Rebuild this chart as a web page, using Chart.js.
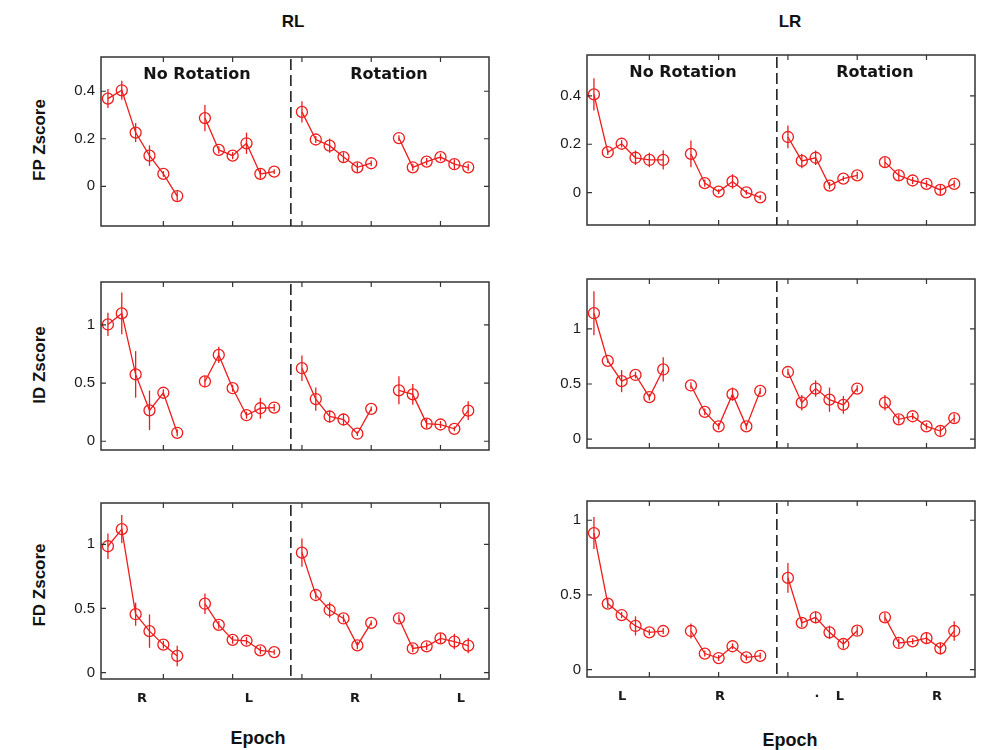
<!DOCTYPE html>
<html>
<head>
<meta charset="utf-8">
<script src="https://cdn.jsdelivr.net/npm/chart.js@4/dist/chart.umd.min.js"></script>
<style>
  body { margin: 0; background: #fff; }
  #wrap { position: relative; width: 984px; height: 750px; overflow: hidden; font-family: "Liberation Sans", Arial, sans-serif; color: #111; }
  canvas { position: absolute; }
  .lbl { position: absolute; transform: translate(-50%, -50%); font-weight: bold; white-space: nowrap; }
  .note { position: absolute; transform: translate(-50%, -50%); font: bold 16px "DejaVu Sans", sans-serif; white-space: nowrap; color: #151515; }
  .ytitle { position: absolute; transform: translate(-50%, -50%) rotate(-90deg); font-weight: bold; font-size: 17px; white-space: nowrap; }
</style>
</head>
<body>
<div id="wrap">
  <div class="lbl" style="left:293px;top:22px;font-size:17px">RL</div>
  <div class="lbl" style="left:790px;top:22px;font-size:17px">LR</div>
  <div class="ytitle" style="left:40px;top:140px">FP Zscore</div>
  <div class="ytitle" style="left:40px;top:365px">ID Zscore</div>
  <div class="ytitle" style="left:40px;top:585px">FD Zscore</div>
  <div class="lbl" style="left:258px;top:738px;font-size:18px">Epoch</div>
  <div class="lbl" style="left:790px;top:740px;font-size:18px">Epoch</div>
</div>
<script>
// epochs: 4 blocks of 6 (No Rotation R/L, Rotation R/L)
const epochs = [1, 2, 3, 4, 5, 6, 8, 9, 10, 11, 12, 13, 15, 16, 17, 18, 19, 20, 22, 23, 24, 25, 26, 27];
const xTicks = [5, 10, 15, 20, 25];
const divider = 14.2;

// FP Zscore
const fpRL = [0.369, 0.404, 0.226, 0.129, 0.052, -0.041, 0.287, 0.153, 0.129, 0.181, 0.052, 0.062, 0.313, 0.197, 0.171, 0.123, 0.080, 0.097, 0.203, 0.080, 0.104, 0.123, 0.093, 0.080];
const fpRLErr = [0.04, 0.04, 0.04, 0.043, 0.012, 0.02, 0.055, 0.015, 0.015, 0.045, 0.02, 0.01, 0.045, 0.015, 0.03, 0.02, 0.02, 0.012, 0.012, 0.015, 0.015, 0.015, 0.02, 0.015];
const fpLR = [0.406, 0.167, 0.202, 0.144, 0.135, 0.135, 0.160, 0.039, 0.004, 0.046, 0.001, -0.02, 0.230, 0.131, 0.144, 0.029, 0.058, 0.071, 0.126, 0.071, 0.050, 0.036, 0.011, 0.036];
const fpLRErr = [0.067, 0.012, 0.015, 0.03, 0.03, 0.04, 0.055, 0.015, 0.01, 0.03, 0.01, 0.01, 0.047, 0.03, 0.03, 0.015, 0.01, 0.015, 0.02, 0.02, 0.015, 0.015, 0.02, 0.015];

// ID Zscore
const idRL = [1.004, 1.099, 0.575, 0.266, 0.417, 0.073, 0.514, 0.742, 0.456, 0.224, 0.284, 0.29, 0.628, 0.363, 0.213, 0.187, 0.065, 0.279, 0.438, 0.403, 0.152, 0.144, 0.107, 0.263];
const idRLErr = [0.1, 0.18, 0.2, 0.17, 0.03, 0.03, 0.05, 0.07, 0.03, 0.03, 0.09, 0.03, 0.11, 0.1, 0.05, 0.05, 0.02, 0.02, 0.12, 0.09, 0.04, 0.03, 0.02, 0.08];
const idLR = [1.142, 0.710, 0.526, 0.582, 0.381, 0.632, 0.487, 0.247, 0.116, 0.408, 0.116, 0.437, 0.609, 0.331, 0.459, 0.358, 0.311, 0.459, 0.331, 0.180, 0.208, 0.116, 0.074, 0.191];
const idLRErr = [0.2, 0.02, 0.1, 0.03, 0.03, 0.11, 0.03, 0.03, 0.03, 0.06, 0.03, 0.03, 0.03, 0.07, 0.075, 0.11, 0.08, 0.03, 0.07, 0.04, 0.03, 0.03, 0.04, 0.04];

// FD Zscore
const fdRL = [0.985, 1.118, 0.455, 0.323, 0.218, 0.130, 0.537, 0.372, 0.255, 0.248, 0.173, 0.160, 0.935, 0.605, 0.488, 0.422, 0.212, 0.387, 0.422, 0.188, 0.205, 0.267, 0.242, 0.21];
const fdRLErr = [0.1, 0.11, 0.09, 0.13, 0.03, 0.08, 0.08, 0.03, 0.03, 0.03, 0.03, 0.02, 0.11, 0.03, 0.06, 0.03, 0.03, 0.02, 0.03, 0.03, 0.03, 0.04, 0.06, 0.06];
const fdLR = [0.914, 0.442, 0.365, 0.292, 0.249, 0.258, 0.258, 0.107, 0.077, 0.156, 0.081, 0.092, 0.614, 0.313, 0.350, 0.249, 0.171, 0.26, 0.350, 0.178, 0.189, 0.21, 0.142, 0.258];
const fdLRErr = [0.107, 0.03, 0.02, 0.064, 0.02, 0.02, 0.05, 0.02, 0.02, 0.02, 0.02, 0.02, 0.1, 0.03, 0.04, 0.045, 0.03, 0.03, 0.03, 0.03, 0.02, 0.04, 0.04, 0.065];

// y tick values
const fpTicks = [0, 0.2, 0.4];
const zTicks = [0, 0.5, 1];

// side labels under bottom panels
const rlSidePos = [3.46, 11.18, 18.83, 26.47];
const rlSideLbl = ['R', 'L', 'R', 'L'];
const lrSidePos = [3.03, 10.1, 17.1, 18.75, 25.75];
const lrSideLbl = ['L', 'R', '·', 'L', 'R'];

const RED = 'rgb(238, 28, 28)';

const panels = [
  { l: 101, t: 50,  w: 388, h: 183, vals: fpRL, errs: fpRLErr, min: -0.167, max: 0.544, ticks: fpTicks },
  { l: 587, t: 48,  w: 388, h: 184, vals: fpLR, errs: fpLRErr, min: -0.134, max: 0.569, ticks: fpTicks },
  { l: 101, t: 275, w: 388, h: 182, vals: idRL, errs: idRLErr, min: -0.075, max: 1.369, ticks: zTicks },
  { l: 587, t: 272, w: 388, h: 183, vals: idLR, errs: idLRErr, min: -0.08,  max: 1.452, ticks: zTicks },
  { l: 101, t: 496, w: 388, h: 183, vals: fdRL, errs: fdRLErr, min: -0.05,  max: 1.322, ticks: zTicks, side: [rlSidePos, rlSideLbl] },
  { l: 587, t: 494, w: 388, h: 183, vals: fdLR, errs: fdLRErr, min: -0.05,  max: 1.129, ticks: zTicks, side: [lrSidePos, lrSideLbl] }
];

// error bars, box, inward ticks, dashed divider
const framePlugin = {
  id: 'frame',
  afterDatasetsDraw(chart) {
    const ctx = chart.ctx, ys = chart.scales.y;
    ctx.save();
    ctx.strokeStyle = RED;
    ctx.lineWidth = 1.3;
    chart.data.datasets.forEach((ds, di) => {
      const meta = chart.getDatasetMeta(di);
      ds.data.forEach((p, i) => {
        const x = meta.data[i].x;
        ctx.beginPath();
        ctx.moveTo(x, ys.getPixelForValue(p.y - ds.errs[i]));
        ctx.lineTo(x, ys.getPixelForValue(p.y + ds.errs[i]));
        ctx.stroke();
      });
    });
    ctx.restore();
  },
  afterDraw(chart) {
    const ctx = chart.ctx, a = chart.chartArea, xs = chart.scales.x, ys = chart.scales.y;
    ctx.save();
    ctx.strokeStyle = '#333';
    ctx.lineWidth = 1.5;
    ctx.strokeRect(a.left, a.top, a.right - a.left, a.bottom - a.top);
    ctx.lineWidth = 1.2;
    ctx.beginPath();
    xTicks.forEach(v => {
      const x = xs.getPixelForValue(v);
      ctx.moveTo(x, a.top); ctx.lineTo(x, a.top + 5);
      ctx.moveTo(x, a.bottom); ctx.lineTo(x, a.bottom - 5);
    });
    chart.options.plugins.frame.ticks.forEach(v => {
      const y = ys.getPixelForValue(v);
      ctx.moveTo(a.left, y); ctx.lineTo(a.left + 5, y);
      ctx.moveTo(a.right, y); ctx.lineTo(a.right - 5, y);
    });
    ctx.stroke();
    const dx = xs.getPixelForValue(divider);
    ctx.strokeStyle = '#222';
    ctx.lineWidth = 1.6;
    ctx.setLineDash([11, 5]);
    ctx.beginPath();
    ctx.moveTo(dx, a.top + 2); ctx.lineTo(dx, a.bottom);
    ctx.stroke();
    ctx.restore();
  }
};

const wrap = document.getElementById('wrap');

panels.forEach((p, pi) => {
  const yW = 60, padT = 8, padR = 8, botH = p.side ? 34 : 8;
  const cv = document.createElement('canvas');
  cv.width = p.w + yW + padR;
  cv.height = p.h + padT + botH;
  cv.style.left = (p.l - yW) + 'px';
  cv.style.top = (p.t - padT) + 'px';
  wrap.appendChild(cv);

  const datasets = [0, 1, 2, 3].map(g => {
    const idx = [0, 1, 2, 3, 4, 5].map(i => g * 6 + i);
    return {
      data: idx.map(i => ({ x: epochs[i], y: p.vals[i] })),
      errs: idx.map(i => p.errs[i]),
      borderColor: RED,
      borderWidth: 1.3,
      pointRadius: 5.5,
      pointBorderWidth: 1.3,
      pointBackgroundColor: 'rgba(0,0,0,0)',
      pointBorderColor: RED,
      showLine: true,
      tension: 0
    };
  });

  const scales = {
    x: { type: 'linear', min: 0.5, max: 28.5, display: false },
    y: {
      type: 'linear', min: p.min, max: p.max,
      grid: { display: false, drawTicks: false }, border: { display: false },
      afterBuildTicks: ax => { ax.ticks = p.ticks.map(v => ({ value: v })); },
      afterFit: ax => { ax.width = yW; },
      ticks: { padding: 6, color: '#1a1a1a', font: { family: 'Liberation Sans', size: 15 }, callback: v => String(v) }
    }
  };
  if (p.side) {
    scales.x2 = {
      type: 'linear', position: 'bottom', min: 0.5, max: 28.5,
      grid: { display: false, drawTicks: false }, border: { display: false },
      afterBuildTicks: ax => { ax.ticks = p.side[0].map(v => ({ value: v })); },
      afterFit: ax => { ax.height = botH; },
      ticks: { padding: 12, autoSkip: false, maxRotation: 0, color: '#1a1a1a',
        font: { family: 'DejaVu Sans', size: 13, weight: 'bold' },
        callback: (v, i) => p.side[1][i] }
    };
  }

  new Chart(cv, {
    type: 'scatter',
    data: { datasets },
    options: {
      responsive: false,
      animation: false,
      devicePixelRatio: 1,
      layout: { padding: { left: 0, top: padT, right: padR, bottom: p.side ? 0 : botH } },
      plugins: { legend: { display: false }, tooltip: { enabled: false }, frame: { ticks: p.ticks } },
      scales
    },
    plugins: [framePlugin]
  });

  if (pi < 2) {
    const cx = p.l + (divider - 0.5) / 28 * p.w;
    [['No Rotation', (p.l + cx) / 2 + 1], ['Rotation', (cx + p.l + p.w) / 2 - 1]].forEach(([txt, x]) => {
      const d = document.createElement('div');
      d.className = 'note';
      d.textContent = txt;
      d.style.left = x + 'px';
      d.style.top = (p.t + 23) + 'px';
      wrap.appendChild(d);
    });
  }
});
</script>
</body>
</html>
